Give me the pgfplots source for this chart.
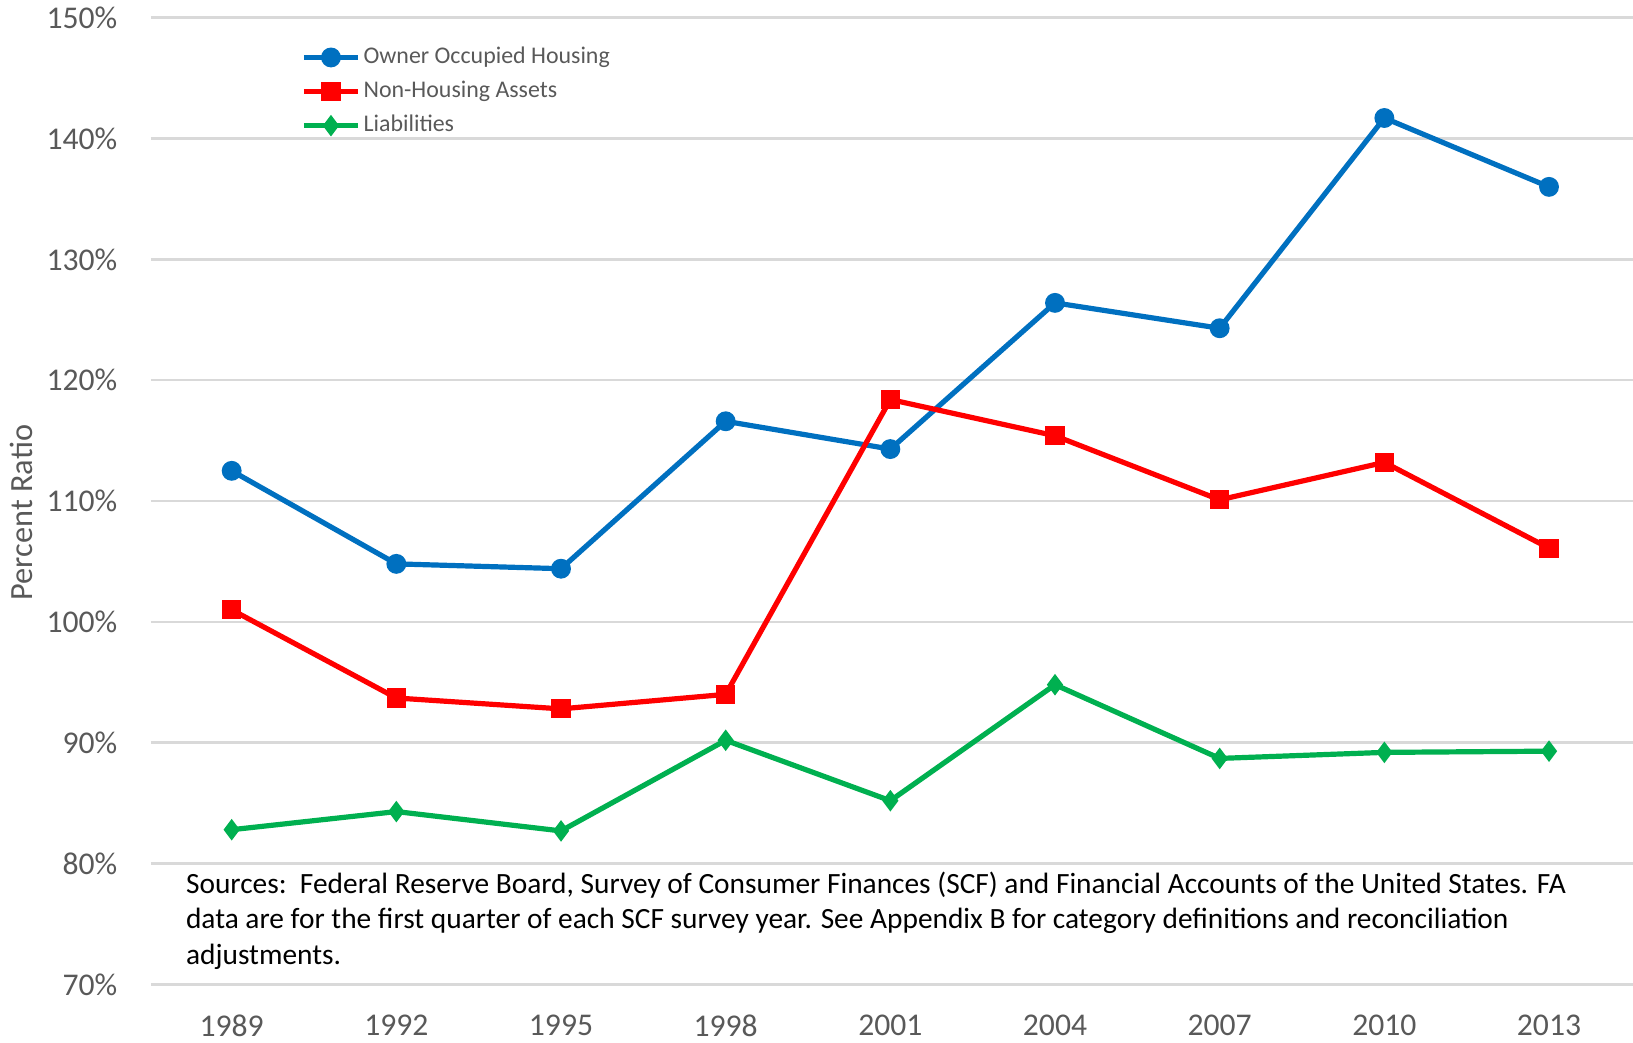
\documentclass[border=0pt]{standalone}
\usepackage{fontspec}
\setmainfont{Carlito}
\usepackage{pgfplots}
\pgfplotsset{compat=1.18}
\definecolor{ownblue}{HTML}{0070C0}
\definecolor{nhred}{HTML}{FF0000}
\definecolor{liabgreen}{HTML}{00B050}
\definecolor{gridgray}{HTML}{D9D9D9}
\definecolor{labelgray}{HTML}{595959}

\begin{document}
\begin{tikzpicture}
\begin{axis}[
    scale only axis,
    width=14.82cm, height=9.667cm,
    xmin=-0.49, xmax=8.51, ymin=70, ymax=150,
    xtick={0,1,2,3,4,5,6,7,8},
    xticklabels={1989,1992,1995,1998,2001,2004,2007,2010,2013},
    ytick={70,80,90,100,110,120,130,140,150},
    ymajorgrids,
    grid style={gridgray, line width=0.25mm},
    axis line style={draw=none},
    major tick length=0pt,
    /pgf/number format/assume math mode=true,
    yticklabel={\pgfmathprintnumber{\tick}\%},
    ticklabel style={font=\fontsize{9}{11}\selectfont, text=labelgray, inner sep=0pt},
    yticklabel style={xshift=-3.3mm},
    xticklabel style={yshift=-2.95mm},
    ylabel={Percent Ratio},
    ylabel style={at={(axis description cs:-0.0877,0.488)}, anchor=center,
        font=\fontsize{9.2}{11}\selectfont, text=labelgray},
    legend style={at={(axis description cs:0.101,0.974)}, anchor=north west,
        draw=none, fill=none, inner sep=0pt, row sep=0.63mm,
        font=\fontsize{6.8}{8}\selectfont, text=labelgray,
        nodes={inner sep=0.3mm}},
    legend cell align=left,
    legend image code/.code={
        \draw[mark repeat=2, mark phase=2] plot coordinates {(0cm,0cm) (0.27cm,0cm) (0.54cm,0cm)};
    },
    every axis plot/.append style={line width=0.52mm},
]
\addplot[ownblue, mark=*, mark size=0.73mm, mark options={solid}] coordinates {
    (0,112.5) (1,104.8) (2,104.4) (3,116.6) (4,114.3) (5,126.4) (6,124.3) (7,141.7) (8,136.0)
};
\addplot[nhred, mark=square*, mark size=0.7mm, mark options={solid}] coordinates {
    (0,101.0) (1,93.7) (2,92.8) (3,94.0) (4,118.4) (5,115.4) (6,110.1) (7,113.2) (8,106.1)
};
\addplot[liabgreen, mark=diamond*, mark size=0.65mm, mark options={solid}] coordinates {
    (0,82.8) (1,84.3) (2,82.7) (3,90.2) (4,85.2) (5,94.8) (6,88.7) (7,89.2) (8,89.3)
};
\legend{Owner Occupied Housing, Non-Housing Assets, Liabilities}
\node[anchor=north west, inner sep=0pt, align=left, text=black,
      font=\fontsize{8.36}{10.06}\selectfont]
    at (axis description cs:0.0232,0.117)
    {Sources:\ \ Federal Reserve Board, Survey of Consumer Finances (SCF) and Financial Accounts of the United States. FA\\
     data are for the first quarter of each SCF survey year. See Appendix B for category definitions and reconciliation\\
     adjustments.};
\coordinate (bl) at (axis description cs:0,0);
\coordinate (tr) at (axis description cs:1,1);
\end{axis}
\pgfresetboundingbox
\path ([shift={(-15.1mm,-5.8mm)}]bl) rectangle ([shift={(0mm,1.77mm)}]tr);
\end{tikzpicture}
\end{document}
